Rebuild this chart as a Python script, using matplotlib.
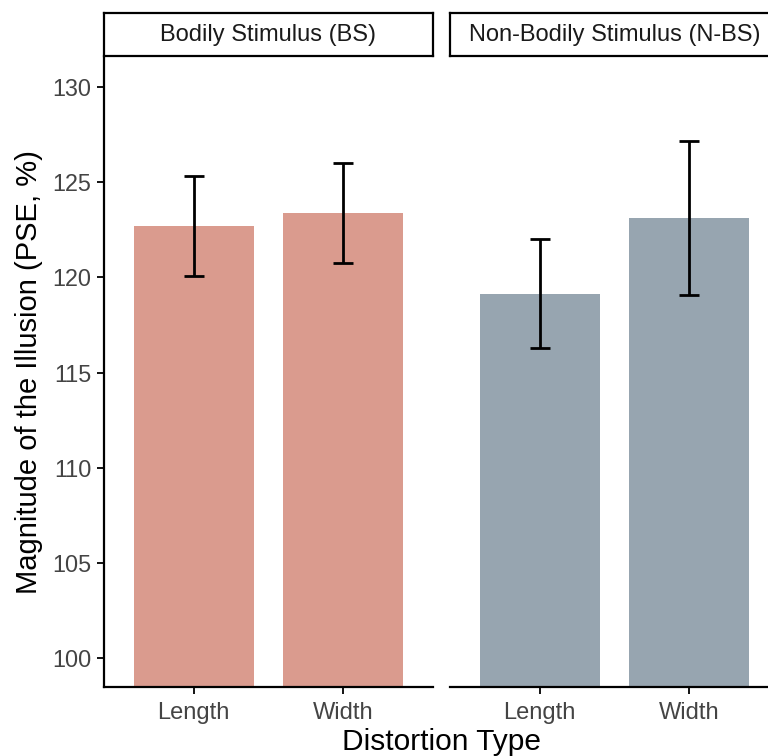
import matplotlib.pyplot as plt

plt.rcParams['font.family'] = ['Liberation Sans', 'DejaVu Sans']

panels = ["Bodily Stimulus (BS)", "Non-Bodily Stimulus (N-BS)"]
distortion = ["Length", "Width"]
pse_bs = [122.67, 123.35]
se_bs = [2.62, 2.62]
pse_nbs = [119.14, 123.10]
se_nbs = [2.86, 4.05]
bar_colors = ["#DA9B8E", "#97A5B0"]

W, H = 768, 756
fig = plt.figure(figsize=(W / 100, H / 100), dpi=100)

def fx(px):
    return px / W

def fy(py):
    return 1 - py / H

panel_w = 329
lefts = [104, 450]
top, bottom = 58, 687

for i, (name, vals, errs) in enumerate(zip(panels, [pse_bs, pse_nbs], [se_bs, se_nbs])):
    left = lefts[i]
    ax = fig.add_axes([fx(left), fy(bottom), fx(panel_w), (bottom - top) / H])
    xs = range(len(distortion))
    ax.bar(xs, [v - 90 for v in vals], bottom=90, width=0.8, color=bar_colors[i], zorder=1)
    ax.errorbar(xs, vals, yerr=errs, fmt='none', ecolor='black', elinewidth=2,
                capsize=7.5, capthick=2, zorder=2)
    ax.set_xlim(-0.6, 1.6)
    ax.set_ylim(98.5, 131.5)
    ax.set_xticks(list(xs))
    ax.set_xticklabels(distortion, fontsize=17, color='#444444')
    for s in ['top', 'right']:
        ax.spines[s].set_visible(False)
    ax.spines['bottom'].set_linewidth(1.6)
    ax.spines['left'].set_linewidth(1.6)
    ax.tick_params(axis='x', length=5, width=1.3, pad=6)
    if i == 0:
        ax.set_yticks([100, 105, 110, 115, 120, 125, 130])
        ax.tick_params(axis='y', labelsize=16.8, labelcolor='#444444', length=5, width=1.3, pad=4)
        ax.set_ylabel("Magnitude of the Illusion (PSE, %)", fontsize=21, labelpad=7)
    else:
        ax.spines['left'].set_visible(False)
        ax.set_yticks([])

    # facet strip
    sax = fig.add_axes([fx(left), fy(56), fx(panel_w), 43 / H])
    sax.set_xticks([])
    sax.set_yticks([])
    for s in sax.spines.values():
        s.set_linewidth(1.6)
    sax.text(0.5, 0.5, name, ha='center', va='center', fontsize=17,
             color='#1a1a1a', transform=sax.transAxes)

fig.text(fx(441), fy(742), "Distortion Type", ha='center', va='center', fontsize=21.5)

fig.savefig("out.png", dpi=100)
